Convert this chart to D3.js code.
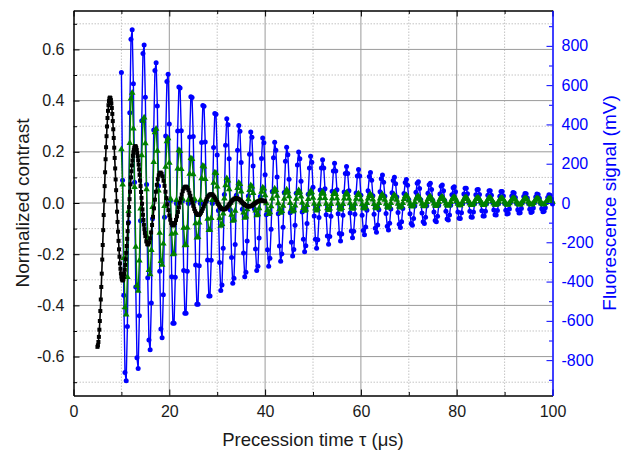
<!DOCTYPE html>
<html><head><meta charset="utf-8">
<script src="https://cdn.jsdelivr.net/npm/d3@7"></script>
<style>
body{margin:0;background:#fff;}
svg{display:block;font-family:"Liberation Sans",Arial,sans-serif;}
</style></head><body>
<svg id="chart" width="633" height="453"></svg>
<script>
// ---------- DATA ----------
// black: normalized contrast vs precession time (0.1 us steps 5-15, 0.2 us steps 15.2-40)
const blackTau = d3.range(101).map(i => +(5 + i * 0.1).toFixed(2))
  .concat(d3.range(125).map(i => +(15.2 + i * 0.2).toFixed(2)));
const blackContrast = [
-0.562,-0.556,-0.543,-0.523,-0.495,-0.461,-0.422,-0.377,-0.328,-0.276,
-0.221,-0.164,-0.106,-0.047,0.010,0.066,0.120,0.171,0.218,0.261,
0.299,0.332,0.360,0.382,0.398,0.408,0.412,0.410,0.402,0.389,
0.371,0.348,0.320,0.288,0.254,0.216,0.176,0.135,0.092,0.050,
0.007,-0.034,-0.074,-0.112,-0.148,-0.181,-0.210,-0.236,-0.257,-0.275,
-0.288,-0.297,-0.302,-0.302,-0.298,-0.289,-0.277,-0.261,-0.242,-0.220,
-0.195,-0.168,-0.140,-0.110,-0.079,-0.047,-0.016,0.015,0.044,0.073,
0.100,0.124,0.147,0.166,0.184,0.198,0.208,0.216,0.220,0.222,
0.220,0.215,0.207,0.196,0.183,0.167,0.150,0.131,0.110,0.088,
0.066,0.043,0.020,-0.003,-0.025,-0.046,-0.066,-0.085,-0.102,-0.117,
-0.130,
-0.150,-0.161,-0.162,-0.154,-0.138,-0.115,-0.086,-0.054,-0.021,0.013,
0.044,0.071,0.093,0.108,0.117,0.119,0.114,0.104,0.087,0.067,
0.044,0.019,-0.005,-0.028,-0.049,-0.065,-0.078,-0.085,-0.088,-0.085,
-0.078,-0.066,-0.052,-0.035,-0.017,0.001,0.018,0.033,0.046,0.056,
0.062,0.064,0.063,0.058,0.050,0.040,0.028,0.015,0.002,-0.011,
-0.023,-0.032,-0.040,-0.045,-0.047,-0.047,-0.044,-0.038,-0.031,-0.022,
-0.013,-0.003,0.006,0.015,0.023,0.028,0.032,0.034,0.034,0.033,
0.029,0.024,0.018,0.011,0.004,-0.004,-0.010,-0.016,-0.020,-0.023,
-0.025,-0.025,-0.024,-0.022,-0.018,-0.014,-0.009,-0.004,0.002,0.007,
0.011,0.014,0.017,0.018,0.019,0.018,0.016,0.014,0.011,0.007,
0.003,-0.001,-0.004,-0.008,-0.010,-0.012,-0.013,-0.014,-0.013,-0.012,
-0.011,-0.008,-0.006,-0.003,0.000,0.003,0.005,0.007,0.009,0.010,
0.010,0.010,0.009,0.008,0.006
];

// blue & green: sampled every 0.25 us from 10 to 100 us
const fluorTau = d3.range(361).map(i => 10 + i * 0.25);
const blueSignal = [ // mV (right axis)
665,116,-469,-863,-905,-629,-98,459,834,882,
607,106,-428,-788,-843,-574,-90,419,761,805,
538,94,-380,-698,-747,-509,-80,372,675,714,
494,86,-348,-641,-686,-467,-73,341,619,655,
402,13,-375,-612,-612,-378,-3,366,590,585,
368,12,-344,-561,-561,-347,-3,336,541,537,
338,11,-316,-515,-515,-319,-3,308,496,492,
310,10,-290,-473,-473,-292,-3,283,456,452,
245,-38,-303,-446,-417,-230,43,294,429,398,
225,-35,-278,-409,-383,-211,39,269,394,365,
206,-32,-255,-376,-352,-194,36,248,362,335,
189,-29,-234,-344,-322,-178,33,227,331,307,
144,-60,-238,-322,-281,-134,59,231,309,268,
132,-55,-219,-296,-259,-123,54,212,284,246,
121,-50,-200,-270,-237,-113,50,194,260,225,
111,-46,-184,-248,-217,-104,45,178,238,207,
80,-66,-184,-230,-187,-74,66,178,220,178,
73,-60,-168,-210,-171,-68,60,163,202,163,
67,-55,-155,-194,-158,-62,56,150,186,150,
62,-51,-142,-177,-144,-57,51,137,170,137,
40,-62,-140,-162,-122,-37,62,135,155,116,
37,-57,-128,-149,-112,-34,57,123,142,106,
34,-53,-118,-137,-103,-31,52,114,131,98,
31,-48,-108,-125,-95,-28,48,104,120,90,
17,-55,-104,-113,-79,-15,55,101,108,74,
16,-51,-96,-104,-73,-14,50,93,100,69,
14,-46,-89,-96,-67,-13,46,85,92,63,
13,-42,-81,-87,-61,-11,42,78,83,57,
4,-46,-78,-79,-50,-2,46,75,75,47,
3,-42,-71,-72,-46,-2,42,68,69,43,
3,-39,-66,-66,-42,-2,39,63,63,40,
3,-36,-60,-61,-38,-2,35,58,58,36,
-3,-37,-56,-53,-30,4,36,54,51,28,
-3,-34,-51,-49,-28,4,33,49,47,26,
-3,-32,-48,-45,-26,3,31,46,43,24,
-3,-29,-44,-42,-24,3,28,42,40,22,
-5
];
const greenContrast = [ // normalized contrast (left axis)
0.210,0.072,-0.215,-0.408,-0.436,-0.289,-0.032,0.234,0.408,0.430,
0.291,0.062,-0.171,-0.323,-0.343,-0.225,-0.022,0.186,0.322,0.334,
0.233,0.053,-0.137,-0.262,-0.279,-0.184,-0.016,0.160,0.276,0.290,
0.204,0.048,-0.117,-0.227,-0.242,-0.159,-0.012,0.141,0.241,0.253,
0.157,0.016,-0.120,-0.201,-0.198,-0.117,0.011,0.134,0.207,0.203,
0.132,0.016,-0.097,-0.165,-0.164,-0.096,0.011,0.114,0.175,0.172,
0.112,0.015,-0.079,-0.135,-0.133,-0.077,0.011,0.096,0.145,0.142,
0.093,0.014,-0.062,-0.106,-0.105,-0.059,0.011,0.079,0.119,0.117,
0.064,-0.001,-0.059,-0.089,-0.082,-0.041,0.017,0.069,0.096,0.088,
0.053,0.001,-0.046,-0.070,-0.065,-0.031,0.015,0.058,0.079,0.074,
0.045,0.002,-0.037,-0.058,-0.053,-0.025,0.014,0.050,0.069,0.064,
0.039,0.003,-0.030,-0.048,-0.044,-0.021,0.013,0.044,0.060,0.056,
0.030,-0.001,-0.029,-0.043,-0.036,-0.013,0.017,0.044,0.056,0.050,
0.028,-0.001,-0.025,-0.038,-0.032,-0.011,0.016,0.040,0.052,0.046,
0.026,0.000,-0.023,-0.034,-0.029,-0.010,0.016,0.039,0.050,0.044,
0.025,0.001,-0.020,-0.031,-0.026,-0.008,0.015,0.037,0.047,0.042,
0.020,-0.003,-0.022,-0.030,-0.023,-0.005,0.018,0.037,0.044,0.037,
0.019,-0.003,-0.021,-0.028,-0.022,-0.004,0.017,0.035,0.042,0.035,
0.018,-0.002,-0.019,-0.026,-0.020,-0.004,0.017,0.033,0.040,0.034,
0.017,-0.001,-0.017,-0.023,-0.018,-0.003,0.016,0.031,0.037,0.031,
0.013,-0.005,-0.018,-0.022,-0.015,0.000,0.017,0.030,0.034,0.027,
0.013,-0.004,-0.017,-0.021,-0.014,0.000,0.017,0.029,0.033,0.026,
0.012,-0.003,-0.015,-0.019,-0.013,0.000,0.016,0.027,0.031,0.025,
0.012,-0.003,-0.014,-0.018,-0.012,0.000,0.015,0.027,0.030,0.024,
0.009,-0.003,-0.012,-0.014,-0.008,0.003,0.016,0.024,0.026,0.020,
0.009,-0.003,-0.011,-0.013,-0.007,0.004,0.015,0.023,0.025,0.019,
0.009,-0.002,-0.010,-0.012,-0.006,0.004,0.015,0.022,0.024,0.018,
0.008,-0.002,-0.009,-0.011,-0.006,0.004,0.014,0.021,0.023,0.018,
0.007,-0.003,-0.009,-0.009,-0.004,0.006,0.015,0.021,0.021,0.016,
0.007,-0.002,-0.008,-0.008,-0.003,0.006,0.015,0.020,0.020,0.015,
0.007,-0.002,-0.008,-0.008,-0.003,0.006,0.014,0.020,0.020,0.015,
0.007,-0.002,-0.007,-0.007,-0.003,0.006,0.014,0.019,0.019,0.014,
0.005,-0.002,-0.007,-0.006,-0.001,0.007,0.014,0.019,0.018,0.013,
0.005,-0.002,-0.006,-0.006,-0.001,0.007,0.014,0.018,0.018,0.013,
0.005,-0.002,-0.006,-0.005,0.000,0.007,0.014,0.018,0.017,0.012,
0.005,-0.001,-0.005,-0.005,0.000,0.007,0.013,0.017,0.017,0.012,
0.005
];

// ticks
const xTicks = [0, 20, 40, 60, 80, 100];
const xMinorTicks = [10, 30, 50, 70, 90];
const yLeftTicks = [-0.6, -0.4, -0.2, 0, 0.2, 0.4, 0.6];
const yLeftMinorTicks = [-0.7, -0.5, -0.3, -0.1, 0.1, 0.3, 0.5, 0.7];
const yRightTicks = [-800, -600, -400, -200, 0, 200, 400, 600, 800];
const yRightMinorTicks = [-900, -700, -500, -300, -100, 100, 300, 500, 700, 900];

const xTitle = "Precession time \u03c4 (\u03bcs)";
const yLeftTitle = "Normalized contrast";
const yRightTitle = "Fluorescence signal (mV)";

// ---------- CHART ----------
const BLUE = "#0000ff", GREEN = "#008000";
const L = 73.5, R = 552.5, T = 10.5, B = 395.5;
const svg = d3.select("#chart");
const x = d3.scaleLinear().domain([0, 100]).range([L, R]);
const yL = d3.scaleLinear().domain([-0.752, 0.752]).range([B, T]);
const yR = d3.scaleLinear().domain([-980, 980]).range([B, T]);

// grid
const grid = svg.append("g");
grid.selectAll(".gxm").data(xMinorTicks).join("line")
  .attr("x1", d => x(d)).attr("x2", d => x(d)).attr("y1", T).attr("y2", B)
  .attr("stroke", "#c4c4c4").attr("stroke-width", 1).attr("stroke-dasharray", "1.5,1.5");
grid.selectAll(".gym").data(yLeftMinorTicks).join("line")
  .attr("x1", L).attr("x2", R).attr("y1", d => yL(d)).attr("y2", d => yL(d))
  .attr("stroke", "#c4c4c4").attr("stroke-width", 1).attr("stroke-dasharray", "1.5,1.5");
grid.selectAll(".gx").data(xTicks.filter(d => d > 0 && d < 100)).join("line")
  .attr("x1", d => x(d)).attr("x2", d => x(d)).attr("y1", T).attr("y2", B)
  .attr("stroke", "#9a9a9a").attr("stroke-width", 1);
grid.selectAll(".gy").data(yLeftTicks).join("line")
  .attr("x1", L).attr("x2", R).attr("y1", d => yL(d)).attr("y2", d => yL(d))
  .attr("stroke", "#9a9a9a").attr("stroke-width", 1);

// blue series
const blueLine = d3.line().x((d, i) => x(fluorTau[i])).y(d => yR(d));
svg.append("path").datum(blueSignal).attr("d", blueLine)
  .attr("fill", "none").attr("stroke", BLUE).attr("stroke-width", 1.4);
svg.append("g").selectAll("circle").data(blueSignal).join("circle")
  .attr("cx", (d, i) => x(fluorTau[i])).attr("cy", d => yR(d)).attr("r", 2.5).attr("fill", BLUE);

// green series
const greenLine = d3.line().x((d, i) => x(fluorTau[i])).y(d => yL(d));
svg.append("path").datum(greenContrast).attr("d", greenLine)
  .attr("fill", "none").attr("stroke", GREEN).attr("stroke-width", 1.4);
const tri = d3.symbol(d3.symbolTriangle, 19);
svg.append("g").selectAll("path").data(greenContrast).join("path")
  .attr("d", tri).attr("fill", GREEN)
  .attr("transform", (d, i) => `translate(${x(fluorTau[i])},${yL(d)})`);

// black series
const blackLine = d3.line().x((d, i) => x(blackTau[i])).y(d => yL(d));
svg.append("path").datum(blackContrast).attr("d", blackLine)
  .attr("fill", "none").attr("stroke", "#000").attr("stroke-width", 1.6);
const sq = d3.symbol(d3.symbolSquare, 16);
svg.append("g").selectAll("path").data(blackContrast).join("path")
  .attr("d", sq).attr("fill", "#000")
  .attr("transform", (d, i) => `translate(${x(blackTau[i])},${yL(d)})`);

// axes
function styleAxis(g, color, fs) {
  g.select(".domain").attr("stroke", color).attr("stroke-width", 1.5);
  g.selectAll(".tick line").attr("stroke", color).attr("stroke-width", 1);
  g.selectAll(".tick text").attr("fill", color === "#000" ? "#1a1a1a" : color)
    .style("font-size", fs + "px").style("font-family", '"Liberation Sans", Arial, sans-serif');
}
function minorAxis(axis, tr, color) {
  const g = svg.append("g").attr("transform", tr).call(axis);
  g.select(".domain").remove();
  g.selectAll(".tick line").attr("stroke", color).attr("stroke-width", 1);
}
// left
minorAxis(d3.axisLeft(yL).tickValues(yLeftMinorTicks).tickSize(-3.5).tickFormat(""), `translate(${L},0)`, "#000");
svg.append("g").attr("transform", `translate(${L},0)`)
  .call(d3.axisLeft(yL).tickValues(yLeftTicks).tickSize(-6).tickSizeOuter(0).tickPadding(9).tickFormat(d => d.toFixed(1)))
  .call(g => styleAxis(g, "#000", 16));
// bottom
minorAxis(d3.axisBottom(x).tickValues(xMinorTicks).tickSize(-3.5).tickFormat(""), `translate(0,${B})`, "#000");
svg.append("g").attr("transform", `translate(0,${B})`)
  .call(d3.axisBottom(x).tickValues(xTicks).tickSize(-6).tickSizeOuter(0).tickPadding(10).tickFormat(d => d))
  .call(g => styleAxis(g, "#000", 16));
// top
minorAxis(d3.axisTop(x).tickValues(xMinorTicks).tickSize(-3.5).tickFormat(""), `translate(0,${T})`, "#000");
svg.append("g").attr("transform", `translate(0,${T})`)
  .call(d3.axisTop(x).tickValues(xTicks).tickSize(-6).tickSizeOuter(0).tickFormat(""))
  .call(g => styleAxis(g, "#000", 16));
// right
minorAxis(d3.axisRight(yR).tickValues(yRightMinorTicks).tickSize(-3.5).tickFormat(""), `translate(${R},0)`, BLUE);
svg.append("g").attr("transform", `translate(${R},0)`)
  .call(d3.axisRight(yR).tickValues(yRightTicks).tickSize(-6).tickSizeOuter(0).tickPadding(9).tickFormat(d => d))
  .call(g => styleAxis(g, BLUE, 16));

// titles
svg.append("text").attr("x", (L + R) / 2).attr("y", 446).attr("text-anchor", "middle")
  .style("font-size", "18.5px").attr("fill", "#1a1a1a").text(xTitle);
svg.append("text").attr("transform", `translate(29,${(T + B) / 2}) rotate(-90)`).attr("text-anchor", "middle")
  .style("font-size", "19px").attr("fill", "#1a1a1a").text(yLeftTitle);
svg.append("text").attr("transform", `translate(616,${(T + B) / 2}) rotate(-90)`).attr("text-anchor", "middle")
  .style("font-size", "19px").attr("fill", BLUE).text(yRightTitle);
</script>
</body></html>
